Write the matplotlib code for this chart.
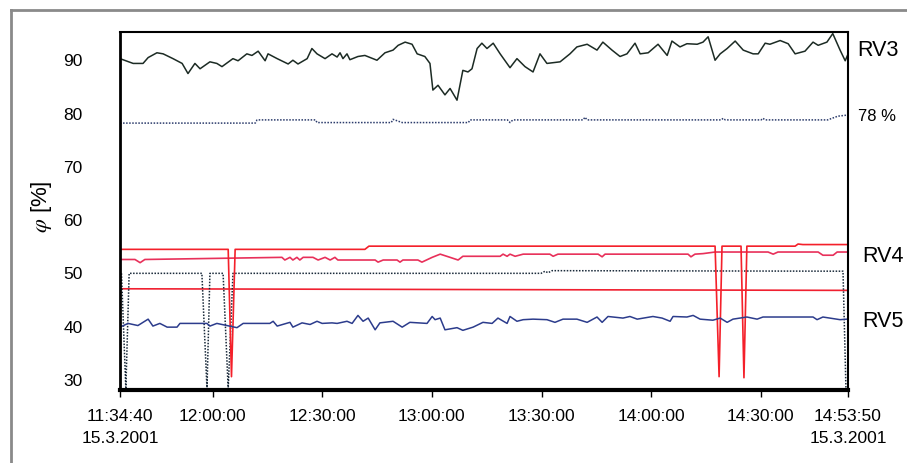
import matplotlib
matplotlib.use('Agg')
import matplotlib.pyplot as plt
from matplotlib.lines import Line2D
from matplotlib.transforms import blended_transform_factory

plt.rcParams['font.family'] = ['Liberation Sans', 'DejaVu Sans']
plt.rcParams['mathtext.fontset'] = 'stix'
plt.rcParams['ytick.major.pad'] = 27
plt.rcParams['ytick.major.size'] = 0

# time axis: minutes after 11:34:40
start = '11:34:40'
tick_clock = ['11:34:40', '12:00:00', '12:30:00', '13:00:00', '13:30:00', '14:00:00', '14:30:00', '14:53:50']
tick_text = ['11:34:40\n15.3.2001', '12:00:00', '12:30:00', '13:00:00', '13:30:00', '14:00:00', '14:30:00',
             '14:53:50\n15.3.2001']

# RV3 (top line)
rv3_t = [0, 3.6, 6.3, 7.7, 10.1, 11.8, 14.5, 17.0, 18.6, 20.5, 21.9, 24.6, 26.5, 27.9, 30.9, 32.3, 34.7, 36.1,
         37.8, 39.7, 40.5, 43.0, 46.0, 47.3, 48.7, 51.2, 52.5, 53.9, 56.1, 58.0, 59.4, 60.2, 61.0, 62.1, 62.9,
         65.1, 67.0, 70.3, 72.5, 74.7, 76.1, 78.0, 79.9, 81.3, 83.4, 84.8, 85.6, 87.0, 88.9, 90.3, 92.2, 93.8,
         95.2, 96.3, 97.7, 99.0, 100.4, 102.1, 104.0, 106.7, 108.6, 110.8, 113.0, 114.9, 116.8, 120.4, 123.1,
         125.0, 127.8, 130.5, 132.1, 134.6, 136.8, 138.7, 140.9, 142.3, 144.5, 147.2, 149.7, 151.0, 153.2,
         155.1, 157.9, 159.5, 160.9, 162.8, 164.2, 166.1, 168.3, 170.5, 173.2, 174.6, 176.5, 177.8, 180.6,
         182.8, 184.7, 187.4, 189.6, 191.0, 193.4, 195.0, 197.0, 198.4, 199.2]
rv3_v = [90.3, 89.4, 89.4, 90.5, 91.4, 91.2, 90.3, 89.4, 87.5, 89.4, 88.4, 89.7, 89.4, 88.8, 90.3, 89.9, 91.2,
         90.9, 91.7, 89.9, 91.2, 90.3, 89.3, 90.0, 89.3, 90.3, 92.2, 91.2, 90.3, 91.2, 90.6, 91.4, 90.3, 91.2,
         90.1, 90.7, 90.9, 90.0, 91.4, 91.9, 92.8, 93.4, 93.0, 91.2, 90.7, 89.4, 84.4, 85.3, 83.5, 84.7, 82.5,
         88.1, 87.8, 88.4, 92.2, 93.2, 92.2, 93.2, 91.2, 88.6, 90.3, 88.8, 87.8, 91.2, 89.4, 89.7, 91.2, 92.5,
         93.0, 91.9, 93.4, 91.9, 90.7, 91.2, 93.2, 91.2, 91.4, 93.0, 90.9, 93.6, 92.5, 93.1, 93.0, 93.4, 94.4,
         90.0, 91.2, 92.2, 93.6, 91.9, 91.2, 91.2, 93.2, 93.0, 93.7, 93.1, 91.2, 91.7, 93.4, 92.8, 93.4, 95.0,
         91.9, 89.9, 91.2]

# 78 % reference (dotted)
ref78_t = [0, 37.0, 37.5, 53.5, 53.9, 74.2, 74.7, 77.2, 95.3, 95.8, 106.0, 106.7, 107.5, 126.7, 127.2, 127.8,
           164.5, 165.0, 165.6, 175.4, 175.9, 176.5, 193.6, 196.4, 198.9, 199.2]
ref78_v = [78.2, 78.2, 78.8, 78.8, 78.3, 78.3, 78.9, 78.3, 78.3, 78.8, 78.8, 78.3, 78.8, 78.8, 79.3, 78.8,
           78.8, 79.1, 78.8, 78.8, 79.1, 78.8, 78.8, 79.5, 79.7, 79.7]

# RV4 upper (red, with dips)
rv4a_t = [0, 29.6, 30.5, 31.5, 67.0, 68.1, 162.8, 163.9, 164.7, 169.9, 170.7, 171.5, 184.7, 185.5, 186.8,
          199.2]
rv4a_v = [54.5, 54.5, 30.6, 54.5, 54.5, 55.1, 55.1, 30.6, 55.1, 55.1, 30.4, 55.1, 55.1, 55.5, 55.4, 55.4]

# RV4 lower (pink-red)
rv4b_t = [0, 4.1, 5.5, 6.8, 44.3, 45.1, 46.5, 47.3, 48.4, 49.2, 50.1, 52.8, 54.2, 56.1, 57.5, 58.8, 59.6,
          69.8, 70.6, 72.0, 75.8, 76.6, 77.4, 81.5, 82.6, 85.4, 87.6, 90.3, 92.5, 93.8, 104.0, 104.8, 105.9,
          106.7, 108.1, 110.3, 117.6, 118.5, 119.8, 130.8, 131.9, 132.7, 155.4, 156.2, 157.3, 159.5, 162.8,
          177.3, 178.7, 180.0, 191.0, 192.3, 195.1, 196.2, 199.2]
rv4b_v = [52.6, 52.6, 52.0, 52.6, 53.0, 52.5, 53.0, 52.5, 53.0, 52.5, 53.0, 53.0, 52.5, 53.0, 52.5, 53.0,
          52.5, 52.5, 52.1, 52.5, 52.5, 52.1, 52.5, 52.5, 52.1, 53.0, 53.6, 53.0, 52.5, 53.2, 53.2, 53.6, 53.2,
          53.6, 53.2, 53.6, 53.6, 53.2, 53.6, 53.6, 53.1, 53.6, 53.6, 53.1, 53.6, 53.7, 54.0, 54.0, 53.6, 54.0,
          54.0, 53.4, 53.4, 54.0, 54.0]

# flat red line
red47_t = [0, 199.2]
red47_v = [47.1, 46.8]

# dotted line near 50 %
dot50_t = [0.4, 1.6, 2.5, 22.4, 23.8, 24.6, 28.2, 29.6, 30.9, 115.2, 116.3, 117.1, 118.2, 197.8, 198.6]
dot50_v = [50.0, 28.3, 50.0, 50.0, 28.3, 50.0, 50.0, 28.3, 50.0, 50.0, 50.4, 50.1, 50.5, 50.4, 28.5]

# RV5 (blue)
rv5_t = [0, 2.2, 4.9, 7.7, 9.0, 10.9, 12.9, 15.6, 16.4, 23.8, 24.6, 26.5, 32.0, 33.7, 41.0, 41.9, 43.0, 46.5,
         47.3, 49.8, 52.0, 53.9, 55.3, 58.0, 59.4, 62.1, 63.5, 65.1, 66.5, 67.9, 69.8, 71.1, 74.7, 77.2, 79.3,
         84.0, 85.4, 86.2, 87.6, 88.9, 92.2, 93.8, 96.6, 99.3, 101.8, 103.4, 105.9, 106.7, 108.6, 110.3, 113.0,
         116.8, 119.0, 121.2, 125.0, 127.8, 130.5, 131.9, 133.5, 137.6, 139.5, 141.5, 145.8, 148.3, 150.5,
         151.3, 155.1, 156.8, 158.7, 162.2, 164.2, 166.1, 167.7, 171.5, 174.3, 175.9, 189.6, 190.7, 192.3,
         197.0, 198.9]
rv5_v = [39.9, 40.6, 40.2, 41.4, 40.1, 40.6, 39.9, 39.9, 40.6, 40.6, 40.1, 40.6, 39.8, 40.6, 40.6, 41.0, 40.1,
         40.8, 39.9, 40.7, 40.4, 41.0, 40.6, 40.7, 40.6, 41.0, 40.6, 42.1, 41.0, 41.6, 39.4, 40.7, 41.0, 39.9,
         40.8, 40.6, 41.9, 41.3, 41.6, 39.4, 39.8, 39.3, 39.9, 40.8, 40.6, 41.6, 40.6, 41.9, 41.0, 41.3, 41.4,
         41.3, 40.8, 41.4, 41.4, 40.8, 41.8, 40.8, 41.9, 41.6, 41.9, 41.4, 41.9, 41.6, 41.0, 41.9, 41.8, 42.1,
         41.4, 41.2, 41.6, 40.8, 41.4, 41.8, 41.4, 41.8, 41.8, 41.3, 41.8, 41.3, 41.4]

side_labels = ['RV3', '78 %', 'RV4', 'RV5']
side_label_y = [91.9, 79.4, 53.2, 41.0]


def minutes(clock):
    h, m, s = [int(p) for p in clock.split(':')]
    h0, m0, s0 = [int(p) for p in start.split(':')]
    return (h * 3600 + m * 60 + s - h0 * 3600 - m0 * 60 - s0) / 60.0


fig = plt.figure(figsize=(9.07, 4.63), dpi=100)
ax = fig.add_axes([120 / 907, 73 / 463, 728 / 907, 358 / 463])

ax.plot(rv3_t, rv3_v, color='#1c2b24', lw=1.1)
ax.plot(ref78_t, ref78_v, color='#2b3b6b', lw=1.1, ls=(0, (1, 1)))
ax.plot(red47_t, red47_v, color='#f02030', lw=1.2)
ax.plot(dot50_t, dot50_v, color='#1a2a3a', lw=1.1, ls=(0, (1, 1)))
ax.plot(rv4b_t, rv4b_v, color='#e8305a', lw=1.2)
ax.plot(rv4a_t, rv4a_v, color='#f4202a', lw=1.2)
ax.plot(rv5_t, rv5_v, color='#2c3c8c', lw=1.1)

ax.set_xlim(0, minutes(tick_clock[-1]))
ax.set_ylim(28.1, 95.3)
ax.set_yticks([30, 40, 50, 60, 70, 80, 90])
ax.set_xticks([minutes(c) for c in tick_clock])
ax.set_xticklabels(tick_text)
ax.tick_params(axis='x', length=5, width=1, pad=9, labelsize=12.5)
ax.tick_params(axis='y', length=0, pad=27, labelsize=12.5)
for lbl in ax.get_xticklabels():
    lbl.set_linespacing(1.55)

ax.spines['left'].set_linewidth(2.0)
ax.spines['bottom'].set_linewidth(3.0)
ax.spines['top'].set_linewidth(1.5)
ax.spines['right'].set_linewidth(1.5)

trans = blended_transform_factory(ax.transAxes, ax.transData)
sizes = [15.5, 12, 15.5, 15.5]
xs = [1.0125, 1.0135, 1.019, 1.019]
for lab, yv, fs, xv in zip(side_labels, side_label_y, sizes, xs):
    ax.text(xv, yv, lab, transform=trans, fontsize=fs, va='center', ha='left')

fig.text(42 / 907, 1 - 207 / 463, r'$\varphi$ [%]', rotation=90, fontsize=16, ha='center', va='center')

# outer frame of the original figure
fig.add_artist(Line2D([11 / 907, 11 / 907], [0, 1 - 10 / 463], transform=fig.transFigure, color='#8a8a8a', lw=2))
fig.add_artist(Line2D([11 / 907, 1], [1 - 10 / 463, 1 - 10 / 463], transform=fig.transFigure, color='#8a8a8a', lw=2))

fig.savefig('out.png', dpi=100)
